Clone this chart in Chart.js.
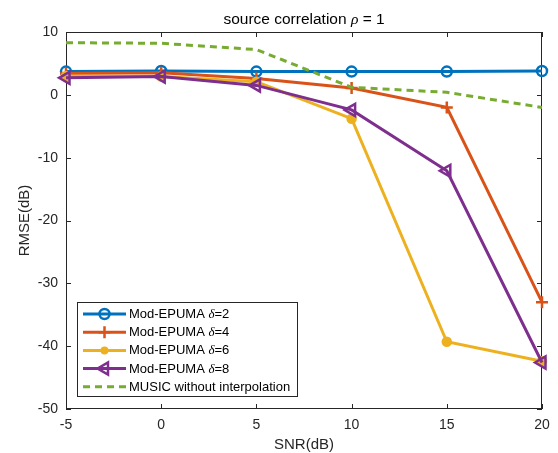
<!DOCTYPE html>
<html lang="en">
<head>
  <meta charset="utf-8"/>
  <title>source correlation rho = 1</title>
  <script src="https://cdn.jsdelivr.net/npm/chart.js"></script>
  <style>
    html, body { margin: 0; padding: 0; background: #fff; }
    #rmseChart { display: block; }
  </style>
</head>
<body>
  <canvas id="rmseChart" width="558" height="453"></canvas>

<script>
  // values (RMSE in dB)
  const snr = [-5, 0, 5, 10, 15, 20];
  const delta2 = [3.7, 3.8, 3.7, 3.7, 3.7, 3.8];
  const delta4 = [3.4, 3.5, 2.6, 1.1, -2.0, -33.0];
  const delta6 = [3.0, 2.9, 2.1, -3.8, -39.3, -42.4];
  const delta8 = [2.7, 2.9, 1.5, -2.4, -12.1, -42.6];
  const music = [8.3, 8.2, 7.2, 1.2, 0.4, -2.0];
  const xTicks = [-5, 0, 5, 10, 15, 20];
  const yTicks = [-50, -40, -30, -20, -10, 0, 10];

  const SANS = '"Liberation Sans", Arial, Helvetica, sans-serif';
  const SERIF = '"Liberation Serif", "DejaVu Serif", serif';
  const AXIS = '#262626';

  const pts = ys => snr.map((x, i) => ({ x: x, y: ys[i] }));

  // legend rows: [prefix, italic symbol, suffix]
  const series = [
    { label: ['Mod-EPUMA ', 'δ', '=2'], data: delta2, color: '#0072BD', marker: 'circle', radius: 5, fill: false, order: 5 },
    { label: ['Mod-EPUMA ', 'δ', '=4'], data: delta4, color: '#D95319', marker: 'cross', radius: 6, fill: false, order: 4 },
    { label: ['Mod-EPUMA ', 'δ', '=6'], data: delta6, color: '#EDB120', marker: 'circle', radius: 4, fill: true, order: 3 },
    { label: ['Mod-EPUMA ', 'δ', '=8'], data: delta8, color: '#7E2F8E', marker: 'triangle', radius: 7, fill: false, order: 2 },
    { label: ['MUSIC without interpolation', '', ''], data: music, color: '#77AC30', marker: false, radius: 0, fill: false, order: 1, dash: [7, 5] }
  ];

  // draw a run of text pieces, italic serif for the greek letter
  function drawPieces(ctx, pieces, x, y, size) {
    let cx = x;
    pieces.forEach((p, i) => {
      if (!p) return;
      ctx.font = (i === 1 ? 'italic ' + size + 'px ' + SERIF : size + 'px ' + SANS);
      ctx.fillText(p, cx, y);
      cx += ctx.measureText(p).width;
    });
  }
  function piecesWidth(ctx, pieces, size) {
    let w = 0;
    pieces.forEach((p, i) => {
      if (!p) return;
      ctx.font = (i === 1 ? 'italic ' + size + 'px ' + SERIF : size + 'px ' + SANS);
      w += ctx.measureText(p).width;
    });
    return w;
  }

  function drawMarker(ctx, s, x, y) {
    ctx.save();
    ctx.strokeStyle = s.color;
    ctx.fillStyle = s.color;
    ctx.lineWidth = 2.5;
    ctx.setLineDash([]);
    ctx.beginPath();
    if (s.marker === 'circle') {
      ctx.arc(x, y, s.radius, 0, Math.PI * 2);
      if (s.fill) ctx.fill(); else ctx.stroke();
    } else if (s.marker === 'cross') {
      ctx.moveTo(x - s.radius, y); ctx.lineTo(x + s.radius, y);
      ctx.moveTo(x, y - s.radius); ctx.lineTo(x, y + s.radius);
      ctx.stroke();
    } else if (s.marker === 'triangle') {
      const r = s.radius;
      ctx.moveTo(x - r, y);
      ctx.lineTo(x + r * 0.5, y - r * 0.866);
      ctx.lineTo(x + r * 0.5, y + r * 0.866);
      ctx.closePath();
      ctx.stroke();
    }
    ctx.restore();
  }

  // MATLAB-like box with inward ticks, title, and the legend inside the axes
  const matlabAxes = {
    id: 'matlabAxes',
    beforeDatasetsDraw(chart) {
      const { ctx, chartArea: a, scales: { x, y } } = chart;
      ctx.save();
      ctx.strokeStyle = AXIS;
      ctx.lineWidth = 1;
      ctx.strokeRect(a.left + 0.5, a.top + 0.5, a.right - a.left - 1, a.bottom - a.top - 1);
      ctx.beginPath();
      xTicks.forEach(v => {
        const px = Math.round(x.getPixelForValue(v)) + 0.5;
        ctx.moveTo(px, a.bottom); ctx.lineTo(px, a.bottom - 5);
        ctx.moveTo(px, a.top); ctx.lineTo(px, a.top + 5);
      });
      yTicks.forEach(v => {
        const py = Math.round(y.getPixelForValue(v)) + 0.5;
        ctx.moveTo(a.left, py); ctx.lineTo(a.left + 5, py);
        ctx.moveTo(a.right, py); ctx.lineTo(a.right - 5, py);
      });
      ctx.stroke();
      ctx.restore();
    },
    afterDraw(chart) {
      const { ctx, chartArea: a } = chart;
      ctx.save();
      // title, centred on the axes
      const title = ['source correlation ', 'ρ', ' = 1'];
      ctx.fillStyle = '#000';
      ctx.textBaseline = 'middle';
      const tw = piecesWidth(ctx, title, 15.5);
      drawPieces(ctx, title, (a.left + a.right) / 2 - tw / 2, 20, 15.5);

      // legend
      const box = { left: 77.5, top: 302.5, width: 220, height: 94 };
      ctx.fillStyle = '#fff';
      ctx.fillRect(box.left, box.top, box.width, box.height);
      ctx.strokeStyle = AXIS;
      ctx.lineWidth = 1;
      ctx.strokeRect(box.left, box.top, box.width, box.height);
      series.forEach((s, i) => {
        const cy = 314 + i * 18.2;
        ctx.save();
        ctx.strokeStyle = s.color;
        ctx.lineWidth = 3;
        ctx.setLineDash(s.dash || []);
        ctx.beginPath();
        ctx.moveTo(83, cy); ctx.lineTo(126, cy);
        ctx.stroke();
        ctx.restore();
        if (s.marker) drawMarker(ctx, s, 104.5, cy);
        ctx.fillStyle = '#000';
        ctx.textBaseline = 'middle';
        drawPieces(ctx, s.label, 129, cy + 0.5, 13);
      });
      ctx.restore();
    }
  };

  const datasets = series.map(s => ({
    label: s.label.join(''),
    data: pts(s.data),
    borderColor: s.color,
    backgroundColor: s.color,
    borderWidth: 3,
    borderDash: s.dash || [],
    tension: 0,
    order: s.order,
    clip: false,
    pointStyle: s.marker,
    pointRotation: s.marker === 'triangle' ? -90 : 0,
    pointRadius: s.radius,
    pointBorderWidth: 2.5,
    pointBorderColor: s.color,
    pointBackgroundColor: s.fill ? s.color : 'rgba(255,255,255,0)'
  }));

  new Chart(document.getElementById('rmseChart'), {
    type: 'line',
    data: { datasets: datasets },
    plugins: [matlabAxes],
    options: {
      responsive: false,
      animation: false,
      devicePixelRatio: 1,
      layout: { padding: { left: 0, right: 16, top: 32, bottom: 0 } },
      plugins: { legend: { display: false }, tooltip: { enabled: false }, title: { display: false } },
      scales: {
        x: {
          type: 'linear',
          min: -5,
          max: 20,
          afterBuildTicks: s => { s.ticks = xTicks.map(v => ({ value: v })); },
          afterFit: s => { s.height = 44; },
          grid: { display: false, drawTicks: false },
          border: { display: false },
          ticks: { padding: 8, color: AXIS, font: { family: SANS, size: 14 } },
          title: { display: true, text: 'SNR(dB)', color: AXIS, font: { family: SANS, size: 15 }, padding: { top: 0, bottom: -1 } }
        },
        y: {
          type: 'linear',
          min: -50,
          max: 10,
          afterBuildTicks: s => { s.ticks = yTicks.map(v => ({ value: v })); },
          afterFit: s => { s.width = 66; },
          grid: { display: false, drawTicks: false },
          border: { display: false },
          ticks: { padding: 8, color: AXIS, font: { family: SANS, size: 14 } },
          title: { display: true, text: 'RMSE(dB)', color: AXIS, font: { family: SANS, size: 15 }, padding: { top: 16, bottom: 0 } }
        }
      }
    }
  });
</script>
</body>
</html>
